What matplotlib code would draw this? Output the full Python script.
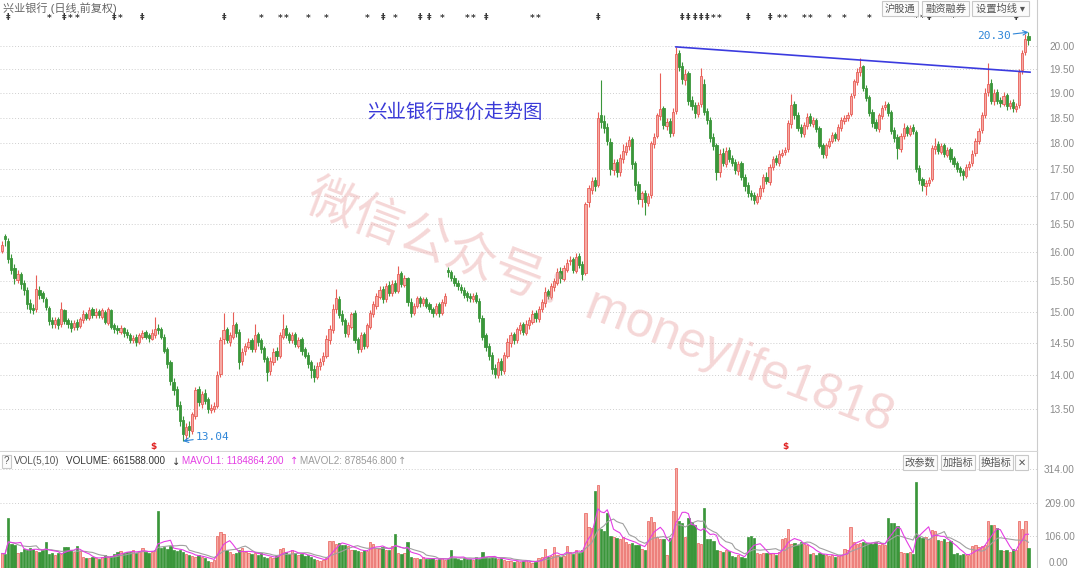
import numpy as np
import pandas as pd
import matplotlib
matplotlib.use('Agg')
import matplotlib.pyplot as plt
from matplotlib.ticker import FixedLocator, NullLocator, FormatStrFormatter, NullFormatter
from matplotlib.patches import Rectangle
import matplotlib.transforms as mtransforms

plt.rcParams['font.family'] = ['Liberation Sans', 'Noto Sans CJK SC', 'DejaVu Sans']

# ---------------- data (daily candles, 兴业银行, 前复权) ----------------
opens = [
    16.02, 16.28, 16.20, 15.90, 15.72, 15.52, 15.62, 15.47, 15.36, 15.14,
    15.06, 15.04, 15.36, 15.30, 15.20, 15.06, 14.86, 14.80, 14.88, 14.80,
    15.02, 14.86, 14.82, 14.75, 14.84, 14.77, 14.86, 14.97, 14.90, 15.04,
    14.94, 15.01, 14.92, 15.00, 14.82, 15.02, 14.78, 14.74, 14.68, 14.74,
    14.68, 14.63, 14.54, 14.60, 14.52, 14.60, 14.67, 14.62, 14.57, 14.62,
    14.74, 14.72, 14.60, 14.40, 14.20, 13.90, 13.80, 13.56, 13.34, 13.12,
    13.26, 13.18, 13.40, 13.80, 13.58, 13.74, 13.64, 13.48, 13.50, 13.55,
    14.02, 14.56, 14.72, 14.52, 14.60, 14.80, 14.68, 14.22, 14.38, 14.44,
    14.54, 14.40, 14.64, 14.54, 14.42, 14.26, 14.06, 14.20, 14.38, 14.30,
    14.60, 14.74, 14.64, 14.54, 14.64, 14.46, 14.56, 14.40, 14.32, 14.20,
    14.10, 13.98, 14.14, 14.22, 14.30, 14.54, 14.70, 15.04, 15.20, 14.96,
    14.86, 14.64, 14.76, 14.98, 14.56, 14.40, 14.64, 14.46, 14.76, 14.96,
    15.10, 15.24, 15.38, 15.20, 15.44, 15.30, 15.48, 15.34, 15.64, 15.44,
    15.56, 15.16, 14.98, 15.10, 15.22, 15.14, 15.20, 15.12, 15.05, 14.98,
    15.12, 14.98, 15.14, 15.70, 15.66, 15.56, 15.48, 15.40, 15.36, 15.30,
    15.25, 15.20, 15.28, 15.18, 14.90, 14.62, 14.46, 14.32, 14.12, 14.00,
    14.22, 14.06, 14.30, 14.50, 14.64, 14.54, 14.70, 14.80, 14.66, 14.78,
    14.84, 14.98, 14.88, 15.04, 15.14, 15.34, 15.24, 15.40, 15.48, 15.68,
    15.54, 15.70, 15.84, 15.88, 15.68, 15.94, 15.80, 15.64, 16.90, 17.12,
    17.30, 17.20, 18.56, 18.44, 18.32, 18.02, 17.48, 17.64, 17.44, 17.70,
    17.84, 17.94, 18.08, 17.62, 17.22, 16.94, 17.06, 16.88, 17.02, 17.98,
    18.14, 18.54, 18.70, 18.34, 18.44, 18.20, 18.64, 19.84, 19.56, 19.28,
    19.42, 18.86, 18.76, 18.58, 18.78, 19.20, 18.64, 18.46, 18.12, 17.96,
    17.44, 17.82, 17.60, 17.86, 17.72, 17.64, 17.46, 17.62, 17.36, 17.20,
    17.06, 17.02, 16.90, 17.00, 17.14, 17.36, 17.26, 17.54, 17.72, 17.62,
    17.78, 17.84, 17.88, 18.38, 18.78, 18.56, 18.32, 18.18, 18.34, 18.54,
    18.38, 18.46, 18.30, 17.96, 17.78, 17.94, 18.04, 18.18, 18.08, 18.30,
    18.44, 18.50, 18.58, 18.96, 19.24, 19.44, 19.56, 19.12, 18.92, 18.62,
    18.42, 18.28, 18.54, 18.72, 18.78, 18.62, 18.26, 18.12, 17.88, 18.14,
    18.32, 18.18, 18.32, 18.22, 17.52, 17.32, 17.18, 17.24, 17.32, 17.88,
    17.98, 17.84, 17.96, 17.78, 17.88, 17.72, 17.62, 17.52, 17.46, 17.38,
    17.54, 17.62, 17.82, 18.04, 18.26, 18.56, 19.02, 19.22, 18.84, 19.02,
    18.86, 18.78, 18.96, 18.74, 18.82, 18.68, 18.76, 19.48, 19.86, 20.22,
]
highs = [
    16.20, 16.32, 16.24, 15.96, 15.80, 15.70, 15.66, 15.52, 15.40, 15.20,
    15.12, 15.60, 15.42, 15.34, 15.24, 15.10, 14.92, 14.92, 14.92, 15.15,
    15.04, 14.90, 14.86, 14.86, 14.88, 14.92, 15.02, 15.00, 15.08, 15.08,
    15.06, 15.04, 15.06, 15.02, 15.08, 15.04, 14.82, 14.78, 14.78, 14.76,
    14.72, 14.66, 14.62, 14.64, 14.66, 14.70, 14.70, 14.66, 14.72, 14.92,
    14.80, 14.76, 14.64, 14.44, 14.24, 13.96, 13.84, 13.62, 13.40, 13.30,
    13.32, 13.46, 13.82, 13.84, 13.76, 13.80, 13.68, 13.58, 13.60, 14.06,
    14.60, 14.98, 14.76, 14.68, 15.00, 14.84, 14.72, 14.42, 14.50, 14.58,
    14.58, 14.80, 14.68, 14.58, 14.46, 14.30, 14.28, 14.42, 14.44, 14.68,
    14.96, 14.78, 14.68, 14.68, 14.68, 14.60, 14.60, 14.44, 14.36, 14.24,
    14.16, 14.20, 14.26, 14.36, 14.62, 14.78, 15.12, 15.38, 15.26, 15.02,
    14.90, 14.84, 15.00, 15.02, 14.60, 14.68, 14.68, 14.82, 15.02, 15.18,
    15.30, 15.42, 15.42, 15.48, 15.50, 15.52, 15.52, 15.76, 15.68, 15.60,
    15.58, 15.22, 15.14, 15.26, 15.26, 15.24, 15.24, 15.16, 15.08, 15.14,
    15.16, 15.20, 15.30, 15.74, 15.70, 15.60, 15.52, 15.46, 15.40, 15.34,
    15.30, 15.30, 15.32, 15.22, 14.94, 14.66, 14.50, 14.36, 14.18, 14.26,
    14.26, 14.36, 14.58, 14.68, 14.68, 14.76, 14.84, 14.84, 14.86, 14.92,
    15.02, 15.02, 15.10, 15.20, 15.40, 15.38, 15.48, 15.56, 15.72, 15.74,
    15.78, 15.88, 15.94, 15.92, 15.98, 15.98, 15.84, 16.90, 17.20, 17.36,
    17.36, 18.62, 19.27, 18.56, 18.40, 18.10, 17.70, 17.70, 17.80, 17.98,
    18.02, 18.14, 18.12, 17.66, 17.28, 17.10, 17.12, 17.06, 18.04, 18.20,
    18.60, 19.42, 18.74, 18.50, 18.50, 18.70, 19.98, 19.92, 19.66, 19.50,
    19.46, 18.94, 18.82, 18.82, 19.52, 19.30, 18.70, 18.52, 18.20, 18.00,
    17.88, 17.90, 17.92, 17.92, 17.78, 17.70, 17.66, 17.66, 17.42, 17.26,
    17.12, 17.08, 17.06, 17.20, 17.42, 17.44, 17.60, 17.76, 17.78, 17.86,
    17.88, 17.92, 18.46, 18.98, 18.84, 18.62, 18.38, 18.42, 18.60, 18.60,
    18.52, 18.50, 18.34, 18.00, 18.00, 18.10, 18.22, 18.22, 18.38, 18.52,
    18.56, 18.62, 19.00, 19.30, 19.52, 19.74, 19.60, 19.18, 18.96, 18.68,
    18.48, 18.60, 18.76, 18.84, 18.82, 18.66, 18.32, 18.18, 18.20, 18.40,
    18.36, 18.36, 18.38, 18.26, 17.58, 17.36, 17.30, 17.36, 17.96, 18.10,
    18.04, 18.00, 18.00, 17.92, 17.92, 17.76, 17.66, 17.56, 17.50, 17.60,
    17.66, 17.86, 18.10, 18.30, 18.62, 19.10, 19.63, 19.30, 19.08, 19.08,
    18.92, 19.02, 19.00, 18.86, 18.88, 18.80, 19.50, 19.92, 20.25, 20.30,
]
lows = [
    15.98, 16.10, 15.82, 15.62, 15.45, 15.48, 15.38, 15.28, 15.05, 14.98,
    14.96, 15.00, 15.20, 15.16, 15.02, 14.78, 14.74, 14.74, 14.72, 14.76,
    14.80, 14.74, 14.68, 14.70, 14.70, 14.74, 14.82, 14.86, 14.86, 14.90,
    14.90, 14.90, 14.88, 14.80, 14.78, 14.72, 14.66, 14.64, 14.64, 14.60,
    14.58, 14.50, 14.50, 14.46, 14.48, 14.56, 14.56, 14.52, 14.54, 14.58,
    14.64, 14.56, 14.34, 14.12, 13.86, 13.70, 13.48, 13.26, 13.04, 13.06,
    13.10, 13.14, 13.36, 13.54, 13.52, 13.58, 13.44, 13.44, 13.46, 13.52,
    13.98, 14.48, 14.50, 14.46, 14.56, 14.60, 14.10, 14.16, 14.32, 14.40,
    14.36, 14.36, 14.46, 14.34, 14.20, 13.92, 14.00, 14.16, 14.24, 14.26,
    14.56, 14.58, 14.50, 14.50, 14.44, 14.42, 14.32, 14.26, 14.12, 13.96,
    13.90, 13.94, 14.08, 14.16, 14.26, 14.48, 14.66, 14.98, 14.90, 14.78,
    14.60, 14.60, 14.72, 14.50, 14.34, 14.36, 14.40, 14.42, 14.72, 14.92,
    15.04, 15.20, 15.14, 15.16, 15.26, 15.26, 15.30, 15.30, 15.40, 15.40,
    15.10, 14.92, 14.94, 15.06, 15.08, 15.10, 15.06, 15.00, 14.92, 14.94,
    14.92, 14.94, 15.10, 15.58, 15.50, 15.42, 15.36, 15.30, 15.22, 15.18,
    15.16, 15.16, 15.14, 14.84, 14.54, 14.38, 14.24, 14.02, 13.96, 13.96,
    14.00, 14.02, 14.26, 14.44, 14.48, 14.50, 14.64, 14.62, 14.62, 14.72,
    14.80, 14.84, 14.84, 15.00, 15.08, 15.20, 15.20, 15.34, 15.44, 15.48,
    15.50, 15.66, 15.78, 15.64, 15.64, 15.72, 15.52, 15.60, 16.80, 17.04,
    17.10, 17.16, 18.30, 18.20, 17.96, 17.40, 17.40, 17.36, 17.38, 17.62,
    17.78, 17.86, 17.50, 17.10, 16.86, 16.80, 16.66, 16.82, 16.96, 17.90,
    18.10, 18.46, 18.28, 18.26, 18.12, 18.14, 18.58, 19.46, 19.20, 19.18,
    18.76, 18.66, 18.50, 18.52, 18.72, 18.56, 18.38, 18.02, 17.86, 17.30,
    17.36, 17.56, 17.54, 17.64, 17.56, 17.42, 17.40, 17.30, 17.10, 16.98,
    16.92, 16.86, 16.86, 16.94, 17.08, 17.22, 17.20, 17.48, 17.58, 17.56,
    17.74, 17.78, 17.84, 18.30, 18.48, 18.24, 18.12, 18.12, 18.28, 18.34,
    18.32, 18.22, 17.90, 17.72, 17.72, 17.90, 18.00, 18.04, 18.04, 18.24,
    18.38, 18.44, 18.54, 18.90, 19.18, 19.36, 19.04, 18.84, 18.54, 18.32,
    18.24, 18.22, 18.48, 18.66, 18.54, 18.18, 18.02, 17.70, 17.84, 18.08,
    18.14, 18.14, 18.18, 17.44, 17.22, 17.10, 17.02, 17.18, 17.28, 17.80,
    17.80, 17.80, 17.74, 17.74, 17.64, 17.54, 17.44, 17.38, 17.30, 17.34,
    17.48, 17.56, 17.76, 17.98, 18.20, 18.50, 18.94, 18.78, 18.76, 18.78,
    18.72, 18.74, 18.66, 18.68, 18.62, 18.62, 18.70, 19.40, 19.80, 20.02,
]
closes = [
    16.12, 16.22, 15.88, 15.70, 15.55, 15.62, 15.45, 15.35, 15.12, 15.05,
    15.02, 15.38, 15.28, 15.22, 15.08, 14.85, 14.80, 14.86, 14.78, 15.05,
    14.85, 14.80, 14.74, 14.82, 14.76, 14.88, 14.96, 14.90, 15.02, 14.95,
    15.00, 14.94, 15.02, 14.84, 15.04, 14.76, 14.72, 14.70, 14.73, 14.66,
    14.62, 14.55, 14.58, 14.52, 14.62, 14.66, 14.60, 14.58, 14.66, 14.72,
    14.70, 14.60, 14.38, 14.18, 13.92, 13.78, 13.55, 13.32, 13.14, 13.24,
    13.20, 13.42, 13.78, 13.60, 13.72, 13.62, 13.50, 13.52, 13.54, 14.00,
    14.55, 14.70, 14.55, 14.62, 14.78, 14.66, 14.20, 14.36, 14.45, 14.52,
    14.40, 14.62, 14.52, 14.40, 14.25, 14.05, 14.22, 14.36, 14.30, 14.62,
    14.72, 14.62, 14.55, 14.62, 14.48, 14.55, 14.38, 14.30, 14.18, 14.08,
    13.98, 14.15, 14.20, 14.30, 14.56, 14.72, 15.05, 15.22, 14.95, 14.85,
    14.65, 14.78, 14.96, 14.55, 14.40, 14.62, 14.45, 14.78, 14.98, 15.12,
    15.25, 15.36, 15.20, 15.42, 15.30, 15.46, 15.34, 15.62, 15.45, 15.55,
    15.15, 14.98, 15.10, 15.22, 15.14, 15.20, 15.10, 15.04, 14.98, 15.10,
    14.98, 15.15, 15.25, 15.65, 15.55, 15.48, 15.42, 15.36, 15.28, 15.24,
    15.22, 15.26, 15.18, 14.90, 14.60, 14.44, 14.30, 14.10, 14.02, 14.20,
    14.08, 14.32, 14.52, 14.62, 14.55, 14.72, 14.78, 14.68, 14.80, 14.86,
    14.96, 14.90, 15.05, 15.15, 15.32, 15.25, 15.42, 15.50, 15.66, 15.55,
    15.72, 15.82, 15.86, 15.70, 15.92, 15.78, 15.62, 16.85, 17.15, 17.28,
    17.18, 18.50, 18.42, 18.30, 18.05, 17.50, 17.62, 17.45, 17.72, 17.85,
    17.95, 18.06, 17.60, 17.20, 16.95, 17.05, 16.90, 17.00, 18.00, 18.12,
    18.55, 18.68, 18.35, 18.42, 18.20, 18.62, 19.82, 19.55, 19.30, 19.40,
    18.85, 18.75, 18.60, 18.76, 19.35, 18.62, 18.45, 18.10, 17.95, 17.45,
    17.80, 17.62, 17.85, 17.70, 17.62, 17.48, 17.60, 17.35, 17.18, 17.05,
    17.00, 16.92, 17.00, 17.15, 17.35, 17.28, 17.55, 17.70, 17.64, 17.80,
    17.82, 17.86, 18.40, 18.76, 18.55, 18.30, 18.20, 18.36, 18.52, 18.40,
    18.45, 18.28, 17.95, 17.80, 17.96, 18.05, 18.16, 18.10, 18.32, 18.45,
    18.50, 18.56, 18.95, 19.25, 19.45, 19.55, 19.10, 18.90, 18.60, 18.40,
    18.30, 18.55, 18.70, 18.76, 18.60, 18.25, 18.10, 17.90, 18.15, 18.30,
    18.20, 18.30, 18.25, 17.50, 17.30, 17.20, 17.25, 17.30, 17.90, 17.95,
    17.85, 17.95, 17.80, 17.86, 17.70, 17.60, 17.50, 17.45, 17.40, 17.55,
    17.60, 17.80, 18.05, 18.25, 18.55, 19.00, 19.20, 18.85, 19.00, 18.85,
    18.80, 18.95, 18.75, 18.80, 18.70, 18.75, 19.45, 19.85, 20.15, 20.12,
]
# volume in 万手
volumes = [
    50, 48, 160, 80, 75, 53, 55, 65, 62, 68,
    64, 58, 55, 60, 85, 48, 50, 45, 52, 48,
    69, 70, 60, 55, 72, 58, 40, 37, 35, 38,
    36, 34, 40, 45, 38, 42, 48, 55, 58, 52,
    56, 55, 60, 52, 58, 66, 54, 50, 56, 60,
    182, 68, 70, 65, 72, 60, 58, 62, 55, 48,
    45, 42, 38, 44, 40, 35, 28, 25, 30, 105,
    118, 112, 60, 55, 48, 52, 60, 66, 55, 50,
    48, 52, 46, 50, 38, 35, 40, 36, 42, 63,
    68, 55, 48, 62, 50, 45, 48, 42, 44, 40,
    32, 30, 28, 30, 35, 90, 88, 80, 82, 75,
    78, 72, 62, 60, 58, 55, 62, 58, 85, 80,
    68, 65, 70, 62, 60, 72, 112, 52, 48, 50,
    85, 40, 35, 36, 32, 38, 34, 32, 35, 30,
    33, 36, 30, 34, 62, 35, 32, 30, 36, 33,
    34, 30, 38, 32, 55, 40, 36, 38, 35, 32,
    35, 30, 28, 26, 25, 28, 24, 26, 30, 22,
    20, 25, 35, 38, 63, 40, 42, 69, 45, 38,
    42, 74, 55, 48, 60, 52, 62, 176, 133, 130,
    246, 263, 128, 120, 176, 105, 100, 98, 95, 102,
    85, 80, 82, 78, 75, 63, 60, 150, 165, 148,
    100, 96, 95, 45, 98, 182, 317, 150, 145, 100,
    160, 148, 140, 82, 80, 193, 96, 95, 90, 60,
    58, 55, 60, 58, 42, 40, 45, 38, 35, 102,
    105, 98, 50, 48, 52, 50, 48, 52, 46, 55,
    96, 98, 128, 80, 82, 78, 85, 80, 75, 48,
    50, 45, 52, 48, 44, 42, 45, 40, 42, 44,
    63, 60, 133, 85, 80, 82, 85, 84, 82, 80,
    85, 78, 80, 75, 160, 145, 144, 136, 55, 52,
    50, 55, 48, 273, 101, 98, 100, 95, 123, 120,
    92, 88, 95, 85, 90, 48, 50, 45, 48, 44,
    46, 72, 76, 70, 74, 78, 150, 140, 139, 130,
    62, 58, 60, 55, 65, 60, 150, 125, 150, 66,
]

price_ticks = [13.5, 14.0, 14.5, 15.0, 15.5, 16.0, 16.5, 17.0, 17.5, 18.0, 18.5, 19.0, 19.5, 20.0]
vol_ticks = [106, 209, 314]
vol_tick_labels = ['106.00', '209.00', '314.00']

low_idx, low_val = 58, 13.04
high_idx, high_val = 329, 20.30
trend_idx = [216, 329.5]
trend_price = [19.98, 19.44]

sym_idx = [2, 15, 20, 22, 24, 36, 38, 45, 71, 83, 89, 91, 98, 104, 117, 122, 126,
           134, 137, 141, 149, 151, 155, 170, 172, 191, 218, 220, 222, 224, 226,
           228, 230, 239, 246, 249, 251, 257, 259, 265, 270, 278, 293, 295, 297,
           305, 325]
sym_chars = ['‡', '*', '‡', '*', '*', '‡', '*', '‡', '‡', '*', '*', '*', '*', '*', '*', '‡', '*',
             '‡', '‡', '*', '*', '*', '‡', '*', '*', '‡', '‡', '‡', '‡', '‡', '‡',
             '*', '*', '‡', '‡', '*', '*', '*', '*', '*', '*', '*', '*', '*', '‡',
             '*', '‡']
mark_idx = [48.4, 251.0]

# ---------------- figure ----------------
W, H = 1080, 568
fig = plt.figure(figsize=(W / 100, H / 100), dpi=100)
fig.patch.set_facecolor('white')


def fx(px):
    return px / W


def fy(py):
    return 1 - py / H


PLOT_R = 1037
ax = fig.add_axes([0, fy(451), PLOT_R / W, 451 / H])
axv = fig.add_axes([0, 0, PLOT_R / W, 116 / H])

o = np.array(opens)
h = np.array(highs)
l = np.array(lows)
c = np.array(closes)
v = np.array(volumes, dtype=float)
n = len(c)
idx = np.arange(n)
up = c >= o

RED_EDGE = '#e85e57'
RED_FACE = '#f6aaa4'
GREEN = '#3a963a'

ax.set_yscale('log')
ax.vlines(idx[up], l[up], h[up], color=RED_EDGE, lw=0.8, zorder=2)
ax.vlines(idx[~up], l[~up], h[~up], color=GREEN, lw=0.8, zorder=2)
body_lo = np.minimum(o, c)
body_h = np.maximum(np.abs(c - o), 0.018)
ax.bar(idx[up], body_h[up], bottom=body_lo[up], width=0.72, color=RED_FACE,
       edgecolor=RED_EDGE, lw=0.6, zorder=3)
ax.bar(idx[~up], body_h[~up], bottom=body_lo[~up], width=0.72, color=GREEN,
       edgecolor=GREEN, lw=0.6, zorder=3)

ax.plot(trend_idx, trend_price, color='#3b3bdf', lw=1.2, zorder=4)

x_lo = -2 / 3.12
x_hi = (PLOT_R - 2) / 3.12
ax.set_xlim(x_lo, x_hi)
ax.set_ylim(12.90, 21.02)
ax.yaxis.tick_right()
ax.yaxis.set_major_locator(FixedLocator(price_ticks))
ax.yaxis.set_minor_locator(NullLocator())
ax.yaxis.set_major_formatter(FormatStrFormatter('%.2f'))
ax.yaxis.set_minor_formatter(NullFormatter())
ax.tick_params(axis='y', which='both', length=0, pad=9, labelsize=7.2, labelcolor='#8a8a8a')
ax.set_xticks([])
ax.grid(axis='y', which='major', color='#cfcfcf', linestyle=(0, (1, 2)), lw=0.7)
ax.set_axisbelow(True)
for s in ['top', 'left']:
    ax.spines[s].set_visible(False)
ax.spines['right'].set_color('#cccccc')
ax.spines['bottom'].set_color('#d5d5d5')
ax.set_facecolor('white')

# annotations
ax.annotate('13.04', xy=(low_idx, low_val), xytext=(13, 4), textcoords='offset pixels',
            ha='left', va='center', fontsize=8, color='#2f86d8', family='DejaVu Sans Mono',
            arrowprops=dict(arrowstyle='->', color='#2f86d8', lw=0.8, shrinkA=0, shrinkB=0))
ax.annotate('20.30', xy=(high_idx, high_val), xytext=(-18, -4), textcoords='offset pixels',
            ha='right', va='center', fontsize=8, color='#2f86d8', family='DejaVu Sans Mono',
            arrowprops=dict(arrowstyle='->', color='#2f86d8', lw=0.8, shrinkA=0, shrinkB=0))

blend = mtransforms.blended_transform_factory(ax.transData, ax.transAxes)
for i, ch in zip(sym_idx, sym_chars):
    ax.text(i, 1 - 18 / 451, ch, transform=blend, ha='center', va='center',
            fontsize=6.5, color='#3a3a3a', fontweight='bold', family='DejaVu Sans')
for i in mark_idx:
    ax.text(i, 1 - 446 / 451, '$', transform=blend, ha='center', va='center',
            fontsize=6.5, color='#e02020', fontweight='bold', family='DejaVu Sans')

# ---------------- volume ----------------
axv.bar(idx[up], v[up], width=0.74, color=RED_FACE, edgecolor=RED_EDGE, lw=0.5, zorder=2)
axv.bar(idx[~up], v[~up], width=0.74, color=GREEN, edgecolor=GREEN, lw=0.5, zorder=2)
ma5 = pd.Series(v).rolling(5, min_periods=1).mean()
ma10 = pd.Series(v).rolling(10, min_periods=1).mean()
axv.plot(idx, ma10, color='#a0a0a0', lw=0.8, zorder=3)
axv.plot(idx, ma5, color='#e43fe4', lw=0.8, zorder=4)
axv.set_xlim(x_lo, x_hi)
axv.set_ylim(4.7, 367)
axv.yaxis.tick_right()
axv.set_yticks(vol_ticks)
axv.set_yticklabels(vol_tick_labels)
axv.tick_params(axis='y', length=0, pad=5, labelsize=7.2, labelcolor='#8a8a8a')
axv.set_xticks([])
axv.grid(axis='y', color='#cfcfcf', linestyle=(0, (1, 2)), lw=0.7)
axv.set_axisbelow(True)
for s in ['top', 'left', 'bottom']:
    axv.spines[s].set_visible(False)
axv.spines['right'].set_color('#cccccc')
fig.text(fx(1049), fy(563), '0.00', fontsize=7.2, color='#8a8a8a', ha='left', va='center')

# ---------------- texts / header ----------------
fig.text(fx(3), fy(8), '兴业银行 (日线,前复权)', fontsize=8, color='#666666', va='center')


def button(x0, y0, x1, y1, label, fs=7.4):
    fig.add_artist(Rectangle((fx(x0), fy(y1)), (x1 - x0) / W, (y1 - y0) / H,
                             transform=fig.transFigure, facecolor='#fbfbfb',
                             edgecolor='#c8c8c8', lw=0.8))
    fig.text(fx((x0 + x1) / 2), fy((y0 + y1) / 2), label, fontsize=fs, color='#555555',
             ha='center', va='center')


button(882, 1, 918, 16, '沪股通')
button(922, 1, 969, 16, '融资融券')
button(972, 1, 1029, 16, '设置均线 ▾')

button(903, 455, 937, 470, '改参数')
button(941, 455, 975, 470, '加指标')
button(979, 455, 1013, 470, '换指标')
button(1015, 455, 1028, 470, '✕', fs=7)
button(2, 455, 11, 468, '?', fs=7)

vy = fy(461.5)
fs_h = 7.1
fig.text(fx(14), vy, 'VOL(5,10)', fontsize=fs_h, color='#555555', va='center')
fig.text(fx(66), vy, 'VOLUME: 661588.000', fontsize=fs_h, color='#333333', va='center')
fig.text(fx(172), vy, '↓', fontsize=fs_h, color='#333333', va='center', family='DejaVu Sans')
fig.text(fx(182), vy, 'MAVOL1: 1184864.200', fontsize=fs_h, color='#e43fe4', va='center')
fig.text(fx(290), vy, '↑', fontsize=fs_h, color='#e43fe4', va='center', family='DejaVu Sans')
fig.text(fx(300), vy, 'MAVOL2: 878546.800', fontsize=fs_h, color='#9a9a9a', va='center')
fig.text(fx(398), vy, '↑', fontsize=fs_h, color='#9a9a9a', va='center', family='DejaVu Sans')

fig.text(fx(455), fy(112), '兴业银行股价走势图', fontsize=14, color='#3a3ad8',
         ha='center', va='center')

fig.text(fx(600), fy(306), '微信公众号：moneylife1818', rotation=-21, fontsize=36,
         color='#e8a0a0', alpha=0.42, ha='center', va='center', rotation_mode='anchor')

fig.savefig('out.png', dpi=100, facecolor='white')
